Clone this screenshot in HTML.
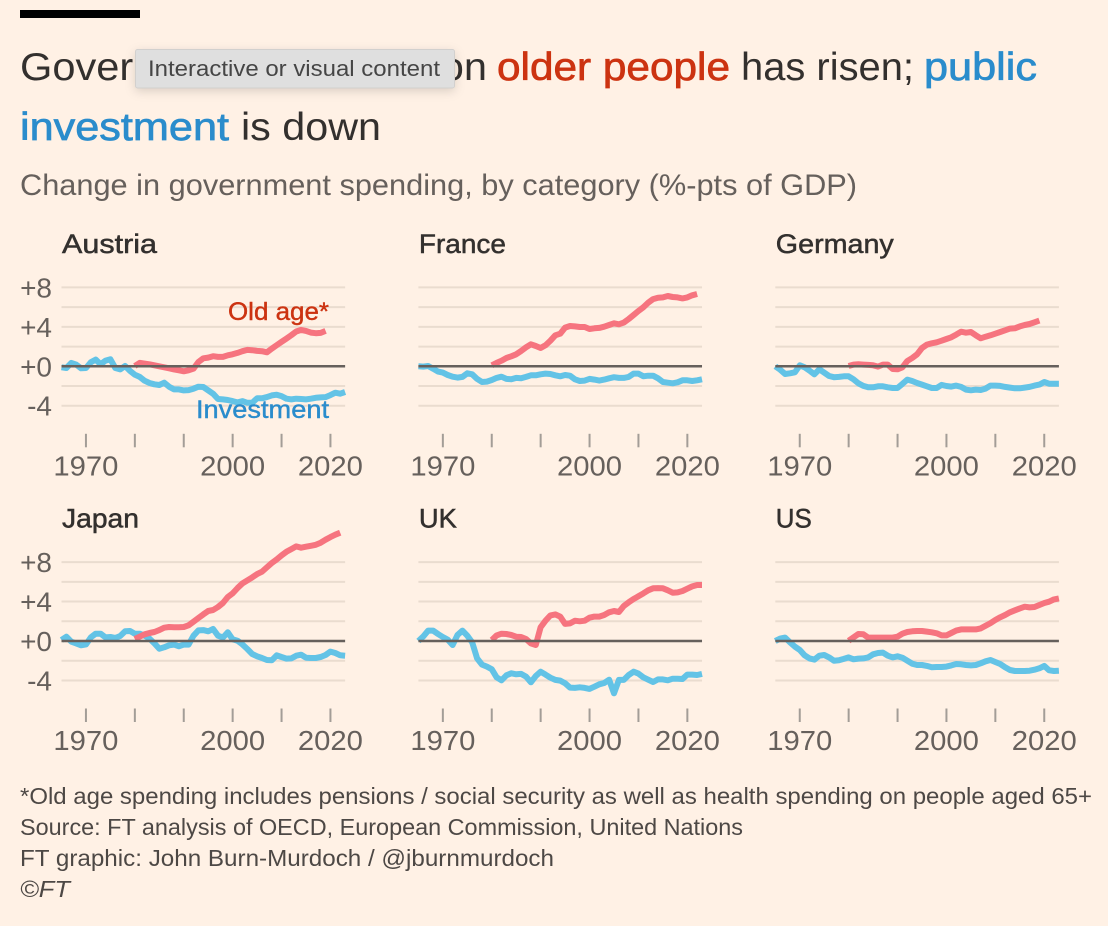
<!DOCTYPE html>
<html lang="en">
<head>
<meta charset="utf-8">
<title>Government spending chart</title>
<style>
html,body{margin:0;padding:0;background:#fff1e5;}
svg{display:block;font-family:"Liberation Sans",sans-serif;}
.medium{stroke-width:.7px;}
</style>
</head>
<body>
<svg id="chart" xmlns="http://www.w3.org/2000/svg" width="1108" height="926" viewBox="0 0 1108 926">
  <defs>
    <filter id="tip-shadow" x="-10%" y="-40%" width="120%" height="190%">
      <feDropShadow dx="0" dy="3" stdDeviation="5" flood-color="#000" flood-opacity="0.14"/>
    </filter>
  </defs>
  <rect width="1108" height="926" fill="#fff1e5"/>
  <rect x="20" y="10" width="120" height="8" fill="#000"/>

  <g font-size="39" fill="#33302e">
    <text x="20" y="80" textLength="467" lengthAdjust="spacingAndGlyphs">Government spending on</text>
    <text class="medium" x="497" y="80" textLength="233" lengthAdjust="spacingAndGlyphs" fill="#cc3311" stroke="#cc3311">older people</text>
    <text x="741" y="80" textLength="173" lengthAdjust="spacingAndGlyphs">has risen;</text>
    <text class="medium" x="924" y="80" textLength="113" lengthAdjust="spacingAndGlyphs" fill="#2a8ccc" stroke="#2a8ccc">public</text>
    <text class="medium" x="20" y="140" textLength="209" lengthAdjust="spacingAndGlyphs" fill="#2a8ccc" stroke="#2a8ccc">investment</text>
    <text x="241" y="140" textLength="140" lengthAdjust="spacingAndGlyphs">is down</text>
  </g>
  <text x="20" y="195" font-size="30" fill="#66605c" textLength="837" lengthAdjust="spacingAndGlyphs">Change in government spending, by category (%-pts of GDP)</text>

  <g id="panels"></g>

  <g font-size="23.5" fill="#4d4845">
    <text x="20" y="804" textLength="1072" lengthAdjust="spacingAndGlyphs">*Old age spending includes pensions / social security as well as health spending on people aged 65+</text>
    <text x="20" y="835" textLength="723" lengthAdjust="spacingAndGlyphs">Source: FT analysis of OECD, European Commission, United Nations</text>
    <text x="20" y="866" textLength="534" lengthAdjust="spacingAndGlyphs">FT graphic: John Burn-Murdoch / @jburnmurdoch</text>
    <text x="20" y="897" font-style="italic" textLength="50" lengthAdjust="spacingAndGlyphs">©FT</text>
  </g>

  <g>
    <rect x="135.5" y="49.5" width="319" height="38.5" rx="2" fill="#dfdfdf" stroke="#d2d0ce" filter="url(#tip-shadow)"/>
    <text x="148" y="76" font-size="22" fill="#454545" textLength="292" lengthAdjust="spacingAndGlyphs">Interactive or visual content</text>
  </g>
</svg>

<script>
const countries = ['Austria', 'France', 'Germany', 'Japan', 'UK', 'US'];
const investmentStartYear = 1965;
const oldAgeStartYear = 1980;
const gridValues = [8, 6, 4, 2, -2, -4];
const yTickValues = [8, 4, 0, -4];
const yTickLabels = ['+8', '+4', '+0', '-4'];
const xTickYears = [1970, 1980, 1990, 2000, 2010, 2020];
const xLabelYears = [1970, 2000, 2020];

const austriaInvestment = [-.1,-.17,.34,.17,-.2,-.17,.41,.68,.2,.58,.71,-.17,-.31,.03,-.47,-.85,-1.08,-1.46,-1.69,-1.83,-1.9,-1.66,-2.07,-2.34,-2.34,-2.44,-2.41,-2.27,-2.07,-2.1,-2.44,-2.78,-3.32,-3.36,-3.42,-3.53,-3.66,-3.53,-3.7,-3.7,-3.25,-3.25,-3.12,-2.95,-2.88,-3.02,-3.29,-3.36,-3.29,-3.32,-3.36,-3.29,-3.19,-3.15,-3.12,-2.92,-2.68,-2.78,-2.61];
const austriaOldAge = [.03,.34,.27,.2,.1,0,-.1,-.2,-.31,-.41,-.51,-.41,-.24,.44,.81,.88,1.02,.95,.95,1.12,1.22,1.36,1.53,1.66,1.63,1.56,1.53,1.42,1.8,2.14,2.47,2.81,3.15,3.53,3.69,3.59,3.42,3.36,3.39,3.59];
const franceInvestment = [0,-.03,.03,-.24,-.54,-.64,-.88,-1.05,-1.15,-1.08,-.71,-.81,-1.28,-1.59,-1.55,-1.39,-1.18,-1.05,-1.28,-1.32,-1.18,-1.22,-1.08,-.91,-.91,-.81,-.74,-.78,-.91,-1.01,-.88,-.95,-1.32,-1.49,-1.45,-1.28,-1.35,-1.45,-1.35,-1.22,-1.11,-1.18,-1.18,-1.08,-.74,-.74,-1.01,-.95,-.95,-1.22,-1.59,-1.66,-1.72,-1.62,-1.42,-1.42,-1.49,-1.42,-1.32];
const franceOldAge = [.1,.34,.57,.84,1.01,1.22,1.55,1.93,2.23,2.06,1.86,2.13,2.6,3.14,3.31,3.92,4.09,4.05,3.99,3.99,3.78,3.85,3.89,4.02,4.19,4.36,4.26,4.43,4.8,5.2,5.61,5.98,6.45,6.82,6.96,6.99,7.13,7.03,6.99,6.89,6.99,7.2,7.33];
const germanyInvestment = [0,-.34,-.78,-.71,-.61,.1,-.1,-.44,-.81,-.3,-.64,-.98,-1.11,-1.08,-1.01,-1.01,-1.32,-1.72,-1.99,-2.13,-2.13,-2.03,-2.03,-2.13,-2.2,-2.2,-1.79,-1.35,-1.49,-1.69,-1.86,-2.03,-2.2,-2.2,-1.89,-2,-2.06,-1.96,-2.09,-2.36,-2.43,-2.36,-2.4,-2.26,-1.96,-1.96,-1.99,-2.09,-2.16,-2.23,-2.23,-2.16,-2.09,-1.96,-1.86,-1.59,-1.76,-1.76,-1.76];
const germanyOldAge = [.03,.17,.2,.17,.14,.1,-.03,.17,.17,-.27,-.3,-.1,.54,.84,1.22,1.86,2.2,2.33,2.43,2.6,2.77,2.94,3.21,3.51,3.41,3.48,3.14,2.84,3,3.14,3.31,3.48,3.65,3.82,3.85,4.05,4.19,4.29,4.46,4.63];
const japanInvestment = [.1,.44,-.07,-.24,-.44,-.34,.37,.74,.74,.37,.41,.3,.51,.98,1.01,.74,.74,.54,.24,-.24,-.78,-.64,-.44,-.37,-.54,-.37,-.37,.54,1.08,1.11,.98,1.22,.54,.34,.88,.17,.03,-.34,-.81,-1.32,-1.55,-1.72,-1.93,-1.96,-1.45,-1.62,-1.79,-1.76,-1.49,-1.39,-1.69,-1.72,-1.72,-1.62,-1.42,-1.08,-1.22,-1.45,-1.49];
const japanOldAge = [.2,.44,.68,.81,.91,1.11,1.35,1.42,1.39,1.39,1.42,1.59,1.96,2.33,2.7,3.04,3.14,3.45,3.85,4.46,4.83,5.37,5.84,6.15,6.45,6.79,7.03,7.47,7.91,8.28,8.68,9.05,9.32,9.59,9.46,9.56,9.66,9.76,9.97,10.27,10.54,10.78,10.98];
const ukInvestment = [0,.47,1.05,1.05,.71,.41,.14,-.41,.61,1.05,.54,-.14,-1.76,-2.39,-2.6,-2.87,-3.68,-3.99,-3.48,-3.28,-3.38,-3.34,-3.61,-4.19,-3.55,-3.11,-3.41,-3.72,-3.95,-4.02,-4.29,-4.73,-4.76,-4.7,-4.76,-4.86,-4.63,-4.39,-4.26,-3.92,-5.3,-3.95,-3.95,-3.45,-3.11,-3.31,-3.68,-3.92,-4.16,-3.89,-3.89,-3.99,-3.82,-3.82,-3.85,-3.41,-3.41,-3.45,-3.34];
const ukOldAge = [.1,.57,.74,.71,.61,.44,.41,.2,-.24,-.41,1.39,2.06,2.6,2.7,2.47,1.73,1.79,2.06,2,2.06,2.36,2.47,2.47,2.64,2.91,3.04,2.94,3.55,3.92,4.26,4.53,4.83,5.14,5.34,5.37,5.34,5.14,4.9,4.93,5.07,5.3,5.54,5.68,5.68];
const usInvestment = [0,.24,.34,-.14,-.57,-.91,-1.45,-1.76,-1.89,-1.49,-1.42,-1.66,-2,-1.96,-1.82,-1.66,-1.86,-1.79,-1.76,-1.66,-1.35,-1.22,-1.18,-1.49,-1.66,-1.55,-1.69,-2,-2.3,-2.43,-2.43,-2.53,-2.67,-2.64,-2.64,-2.6,-2.47,-2.33,-2.36,-2.43,-2.47,-2.43,-2.26,-2.06,-1.93,-2.13,-2.33,-2.67,-2.94,-3.04,-3.04,-3.04,-3.01,-2.91,-2.77,-2.53,-2.97,-3.04,-3.01];
const usOldAge = [.03,.37,.71,.68,.34,.34,.34,.34,.34,.34,.44,.74,.91,.98,1.01,1.01,.95,.88,.78,.57,.57,.81,1.05,1.18,1.18,1.18,1.18,1.28,1.55,1.82,2.13,2.4,2.64,2.91,3.11,3.31,3.48,3.41,3.45,3.65,3.85,3.99,4.22,4.32];

const investmentSeries = [austriaInvestment, franceInvestment, germanyInvestment, japanInvestment, ukInvestment, usInvestment];
const oldAgeSeries = [austriaOldAge, franceOldAge, germanyOldAge, japanOldAge, ukOldAge, usOldAge];

const NS = 'http://www.w3.org/2000/svg';
const root = document.getElementById('panels');
const titleWidths = { Austria: 95, France: 87, Germany: 118, Japan: 77, UK: 38, US: 36 };

function svgEl(tag, parent) {
  const el = document.createElementNS(NS, tag);
  parent.appendChild(el);
  return el;
}
function setAttrs(el, attrs) {
  Object.keys(attrs).forEach(function (k) { el.setAttribute(k, attrs[k]); });
}

countries.forEach(function (country, i) {
  const col = i % 3;
  const row = Math.floor(i / 3);
  const panelX = 61.5 + col * 356.9;
  const zeroY = 366.3 + row * 274.7;
  const slug = country.toLowerCase();
  const xScale = function (year) { return panelX + (year - 1965) * 4.89; };
  const yScale = function (value) { return zeroY - value * 9.86; };
  const leftX = xScale(1965);
  const rightX = xScale(2023);

  const g = svgEl('g', root);
  
  

  const title = svgEl('text', g);
  
  
  setAttrs(title, { x: leftX + 0.5, y: zeroY - 113.5, 'font-size': 27, fill: '#33302e', stroke: '#33302e', 'stroke-width': 0.5, textLength: titleWidths[country], lengthAdjust: 'spacingAndGlyphs' });
  title.textContent = country;

  gridValues.forEach(function (v) {
    const line = svgEl('line', g);
    
    
    setAttrs(line, { x1: leftX, x2: rightX, y1: yScale(v), y2: yScale(v), stroke: '#eadccf', 'stroke-width': 2 });
  });

  if (col === 0) {
    yTickValues.forEach(function (v, t) {
      const label = svgEl('text', g);
      
      
      setAttrs(label, { x: 52, y: yScale(v) + 10, 'font-size': 28, fill: '#66605c', 'text-anchor': 'end' });
      label.textContent = yTickLabels[t];
    });
  }

  xTickYears.forEach(function (year) {
    const tick = svgEl('line', g);
    
    
    setAttrs(tick, { x1: xScale(year), x2: xScale(year), y1: zeroY + 67.5, y2: zeroY + 81, stroke: '#a39d97', 'stroke-width': 2 });
  });
  xLabelYears.forEach(function (year) {
    const label = svgEl('text', g);
    
    
    setAttrs(label, { x: xScale(year), y: zeroY + 109, 'font-size': 28, fill: '#66605c', 'text-anchor': 'middle', textLength: 65, lengthAdjust: 'spacingAndGlyphs' });
    label.textContent = String(year);
  });

  const invPath = svgEl('polyline', g);
  
  
  setAttrs(invPath, {
    points: investmentSeries[i].map(function (v, k) { return xScale(investmentStartYear + k).toFixed(1) + ',' + yScale(v).toFixed(1); }).join(' '),
    fill: 'none', stroke: '#63c3e6', 'stroke-width': 6, 'stroke-linejoin': 'round'
  });

  const oldPath = svgEl('polyline', g);
  
  
  setAttrs(oldPath, {
    points: oldAgeSeries[i].map(function (v, k) { return xScale(oldAgeStartYear + k).toFixed(1) + ',' + yScale(v).toFixed(1); }).join(' '),
    fill: 'none', stroke: '#f6747f', 'stroke-width': 6, 'stroke-linejoin': 'round'
  });

  const zero = svgEl('line', g);
  
  
  setAttrs(zero, { x1: leftX, x2: rightX, y1: yScale(0), y2: yScale(0), stroke: '#66605c', 'stroke-width': 2.5 });

  if (i === 0) {
    const oldLabel = svgEl('text', g);
    
    
    setAttrs(oldLabel, { x: 228, y: 320, 'font-size': 25, fill: '#cc3311', stroke: '#cc3311', 'stroke-width': 0.4, textLength: 101, lengthAdjust: 'spacingAndGlyphs' });
    oldLabel.textContent = 'Old age*';

    const invLabel = svgEl('text', g);
    
    
    setAttrs(invLabel, { x: 196, y: 418, 'font-size': 25, fill: '#2a8ccc', stroke: '#2a8ccc', 'stroke-width': 0.4, textLength: 133, lengthAdjust: 'spacingAndGlyphs' });
    invLabel.textContent = 'Investment';
  }
});
</script>
</body>
</html>
